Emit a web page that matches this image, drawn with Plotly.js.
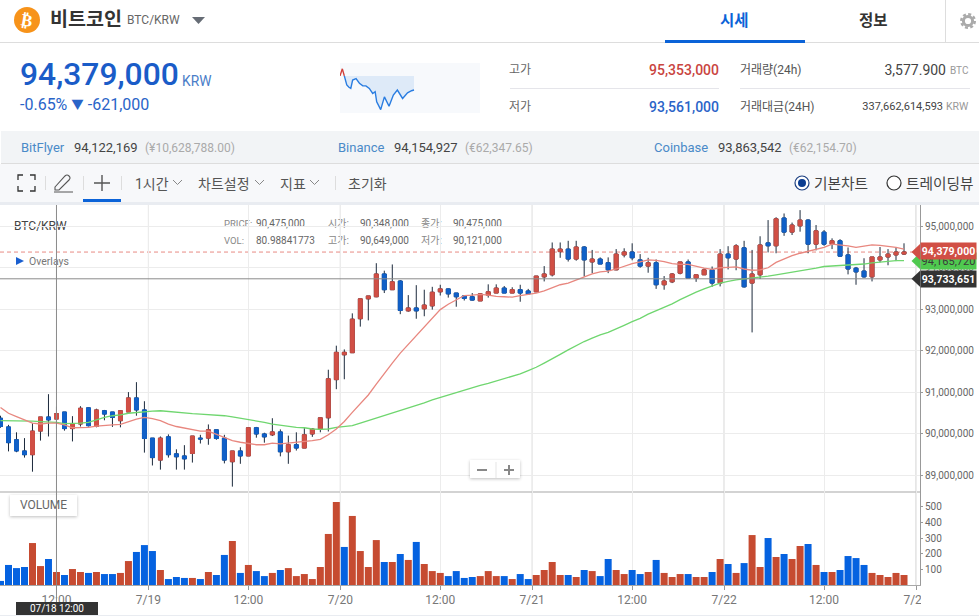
<!DOCTYPE html>
<html lang="ko"><head><meta charset="utf-8">
<script src="https://cdn.plot.ly/plotly-3.0.1.min.js"></script>
<style>
html,body{margin:0;padding:0;background:#fff;width:979px;height:616px;overflow:hidden;font-family:Roboto,"Noto Sans CJK KR",sans-serif;}
.t{position:absolute;white-space:nowrap;height:20px;line-height:20px;}
.r{text-align:right;}
.b{position:absolute;}
#under{position:absolute;left:0;top:0;width:979px;height:616px;z-index:0;}
#chart{position:absolute;left:0;top:205px;width:979px;height:411px;z-index:1;}
#over{position:absolute;left:0;top:0;width:979px;height:616px;z-index:2;pointer-events:none;}
#spark{position:absolute;left:340px;top:63px;width:140px;height:50px;}
svg{position:absolute;overflow:visible;}
</style></head><body>
<div id="under">
  <!-- header -->
  <div class="b" style="left:0;top:42px;width:979px;height:1px;background:#ddd"></div>
  <div class="b" style="left:945px;top:0;width:1px;height:42px;background:#ddd"></div>
  <svg style="left:14px;top:7px" width="26" height="26"><circle cx="13" cy="13" r="13" fill="#f7931a"/><text x="13" y="19" text-anchor="middle" fill="#fff" font-family="DejaVu Sans" font-weight="bold" font-size="17" transform="rotate(10 13 13)">₿</text></svg>
  <div class="t" style="left:50px;top:10px;font-size:19.6px;font-weight:700;color:#333">비트코인</div>
  <div class="t" style="left:127px;top:10px;font-size:12px;color:#666">BTC/KRW</div>
  <svg style="left:192px;top:17px" width="13" height="7"><path d="M0 0H13L6.5 7Z" fill="#666c75"/></svg>
  <div class="t" style="left:720px;top:11px;font-size:15.5px;font-weight:700;color:#0b63d8">시세</div>
  <div class="t" style="left:859px;top:11px;font-size:15.5px;font-weight:700;color:#333">정보</div>
  <div class="b" style="left:665px;top:40px;width:140px;height:3px;background:#0b63d8"></div>
  <svg style="left:960px;top:13px" width="16" height="16"><circle cx="8" cy="8" r="4.6" fill="none" stroke="#aaa" stroke-width="3"/><circle cx="8" cy="8" r="6.8" fill="none" stroke="#aaa" stroke-width="2.4" stroke-dasharray="3 2.34"/></svg>
  <!-- price block -->
  <div class="t" style="left:20px;top:64px;font-size:31.8px;font-weight:500;color:#1a5cc8">94,379,000</div>
  <div class="t" style="left:182px;top:71px;font-size:13.8px;color:#4a7dc8">KRW</div>
  <div class="t" style="left:20px;top:95px;font-size:16px;color:#2a64c8">-0.65% <span style="font-size:12.5px;position:relative;top:-1px">▼</span> -621,000</div>
  <div class="b" style="left:340px;top:63px;width:140px;height:50px;background:#f7f9fc"></div>
  <div class="t" style="left:509px;top:60px;font-size:12px;color:#666">고가</div>
  <div class="t r" style="right:260px;top:60px;font-size:14px;font-weight:500;color:#c9453f">95,353,000</div>
  <div class="b" style="left:510px;top:88px;width:209px;height:1px;background:#e5e5ea"></div>
  <div class="t" style="left:509px;top:97px;font-size:12px;color:#666">저가</div>
  <div class="t r" style="right:260px;top:97px;font-size:14px;font-weight:500;color:#2a64c8">93,561,000</div>
  <div class="t" style="left:740px;top:60px;font-size:12px;color:#555">거래량(24h)</div>
  <div class="t r" style="right:33px;top:60px;font-size:14px;color:#444">3,577.900</div>
  <div class="t" style="left:950px;top:61px;font-size:10px;color:#999">BTC</div>
  <div class="b" style="left:740px;top:88px;width:230px;height:1px;background:#e5e5ea"></div>
  <div class="t" style="left:740px;top:97px;font-size:12px;color:#555">거래대금(24H)</div>
  <div class="t r" style="right:36px;top:97px;font-size:11px;color:#444">337,662,614,593</div>
  <div class="t" style="left:946px;top:97px;font-size:10.5px;color:#999">KRW</div>
  <!-- exchanges -->
  <div class="b" style="left:1px;top:131px;width:978px;height:32px;background:#f2f4f6;border-bottom:1px solid #ddd"></div>
  <div class="t" style="left:21px;top:138px;font-size:13px;color:#4a8ac8">BitFlyer</div>
  <div class="t" style="left:74px;top:138px;font-size:13px;color:#444">94,122,169</div>
  <div class="t" style="left:145px;top:138px;font-size:12px;color:#aaa">(¥10,628,788.00)</div>
  <div class="t" style="left:338px;top:138px;font-size:13px;color:#4a8ac8">Binance</div>
  <div class="t" style="left:394px;top:138px;font-size:13px;color:#444">94,154,927</div>
  <div class="t" style="left:465px;top:138px;font-size:12px;color:#aaa">(€62,347.65)</div>
  <div class="t" style="left:654px;top:138px;font-size:13px;color:#4a8ac8">Coinbase</div>
  <div class="t" style="left:718px;top:138px;font-size:13px;color:#444">93,863,542</div>
  <div class="t" style="left:789px;top:138px;font-size:12px;color:#aaa">(€62,154.70)</div>
  <!-- toolbar -->
  <div class="b" style="left:0;top:164px;width:979px;height:38px;background:#f7f8fa"></div>
  <div class="b" style="left:0;top:202px;width:979px;height:3px;background:#e9ecf1"></div>
  <svg style="left:18px;top:175px" width="17" height="16"><path d="M0 5V0H5M12 0H17V5M17 11V16H12M5 16H0V11" fill="none" stroke="#333" stroke-width="1.3"/></svg>
  <div class="b" style="left:45px;top:176px;width:1px;height:14px;background:#ddd"></div>
  <svg style="left:54px;top:174px" width="19" height="18"><path d="M1 13L11 2Q13 0 15 2Q17 4 15 6L5 16L1 16Z" fill="none" stroke="#555" stroke-width="1.1"/><path d="M0 18H19" stroke="#555" stroke-width="1"/></svg>
  <div class="b" style="left:83px;top:176px;width:1px;height:14px;background:#ddd"></div>
  <svg style="left:94px;top:175px" width="16" height="16"><path d="M8 0V16M0 8H16" stroke="#555" stroke-width="1.4"/></svg>
  <div class="b" style="left:83px;top:199px;width:38px;height:3px;background:#0b63d8"></div>
  <div class="b" style="left:121px;top:176px;width:1px;height:14px;background:#ddd"></div>
  <div class="t" style="left:135px;top:174px;font-size:14px;color:#555">1시간</div>
  <svg style="left:173px;top:180px" width="9" height="5"><path d="M0 0L4.5 4.5L9 0" fill="none" stroke="#888"/></svg>
  <div class="t" style="left:198px;top:174px;font-size:14px;color:#555">차트설정</div>
  <svg style="left:255px;top:180px" width="9" height="5"><path d="M0 0L4.5 4.5L9 0" fill="none" stroke="#888"/></svg>
  <div class="t" style="left:280px;top:174px;font-size:14px;color:#555">지표</div>
  <svg style="left:310px;top:180px" width="9" height="5"><path d="M0 0L4.5 4.5L9 0" fill="none" stroke="#888"/></svg>
  <div class="b" style="left:335px;top:176px;width:1px;height:14px;background:#ddd"></div>
  <div class="t" style="left:348px;top:174px;font-size:14px;color:#555">초기화</div>
  <svg style="left:794px;top:175px" width="16" height="16"><circle cx="8" cy="8" r="7" fill="#fff" stroke="#1c3f80" stroke-width="1.2"/><circle cx="8" cy="8" r="4" fill="#0b3d91"/></svg>
  <div class="t" style="left:814px;top:174px;font-size:14.7px;color:#444">기본차트</div>
  <svg style="left:886px;top:175px" width="16" height="16"><circle cx="8" cy="8" r="7" fill="#fff" stroke="#333" stroke-width="1.2"/></svg>
  <div class="t" style="left:906px;top:174px;font-size:14.7px;color:#444">트레이딩뷰</div>
  <!-- chart captions -->
  <div class="t" style="left:14px;top:216px;font-size:12px;color:#444">BTC/KRW</div>
  <div class="t" style="left:224px;top:214px;font-size:9.5px;color:#888">PRICE:</div>
  <div class="t" style="left:256px;top:214px;font-size:10px;color:#666">90,475,000</div>
  <div class="t" style="left:224px;top:231px;font-size:9.5px;color:#888">VOL:</div>
  <div class="t" style="left:256px;top:231px;font-size:10px;color:#666">80.98841773</div>
  <div class="t" style="left:328px;top:214px;font-size:10px;color:#888">시가:</div>
  <div class="t" style="left:360px;top:214px;font-size:10px;color:#666">90,348,000</div>
  <div class="t" style="left:421px;top:214px;font-size:10px;color:#888">종가:</div>
  <div class="t" style="left:453px;top:214px;font-size:10px;color:#666">90,475,000</div>
  <div class="t" style="left:328px;top:231px;font-size:10px;color:#888">고가:</div>
  <div class="t" style="left:360px;top:231px;font-size:10px;color:#666">90,649,000</div>
  <div class="t" style="left:421px;top:231px;font-size:10px;color:#888">저가:</div>
  <div class="t" style="left:453px;top:231px;font-size:10px;color:#666">90,121,000</div>
  <svg style="left:16px;top:257px" width="8" height="8"><path d="M0 0L8 4L0 8Z" fill="#1a5fd0"/></svg>
  <div class="t" style="left:29px;top:252px;font-size:10.5px;color:#777">Overlays</div>
  <div class="b" style="left:10px;top:495px;width:67px;height:21px;background:#fff;box-shadow:0 1px 3px rgba(0,0,0,.25)"></div>
  <div class="t" style="left:20px;top:495px;font-size:12px;color:#666">VOLUME</div>
</div>
<div id="chart"></div>
<div id="over">
  <div id="spark"></div>
  <div class="b" style="left:470px;top:460px;width:50px;height:18px;background:#fff;box-shadow:0 1px 3px rgba(0,0,0,.25)"></div>
  <svg style="left:477px;top:465px" width="40" height="10"><path d="M0 5H10M27 5H37M32 0V10" stroke="#888" stroke-width="2"/><path d="M19 -3V13" stroke="#e5e5e5"/></svg>
  <div class="b" style="left:921px;top:587px;width:58px;height:27px;background:#fff"></div>
  <div class="b" style="left:0;top:615px;width:979px;height:1px;background:#e9ecf1"></div>
  <div class="t" style="left:16px;top:602px;width:82px;height:13px;line-height:13px;background:#333;color:#fff;font-size:10px;text-align:center">07/18 12:00</div>
</div>
<script>
// hourly candles, million KRW, first candle 2024-07-18 05:00
const open=[90.37,90.16,89.85,89.58,89.49,90.06,90.40,90.35,90.52,90.12,
90.23,90.62,90.17,90.55,90.52,90.31,90.52,90.86,90.57,89.89,
89.36,89.92,89.51,89.46,89.52,89.89,89.89,90.09,89.89,89.32,
89.58,89.46,90.14,89.99,89.97,90.04,89.56,89.73,89.65,89.99,
90.11,90.38,91.30,91.90,91.95,92.77,93.25,93.30,93.85,93.47,
93.68,92.96,93.03,93.01,93.08,93.42,93.49,93.39,93.32,93.30,
93.20,93.34,93.39,93.51,93.39,93.47,93.44,93.42,93.78,93.83,
94.39,94.45,94.21,94.50,94.14,94.21,94.12,93.95,94.31,94.38,
94.19,94.04,94.12,93.59,93.66,93.87,94.14,93.75,93.83,93.95,
93.63,94.33,94.21,94.48,93.63,93.83,94.60,94.53,95.20,94.86,
95.01,95.15,94.57,94.86,94.57,94.65,94.31,93.99,93.92,93.78,
94.19,94.26,94.31,94.33];
const high=[90.43,90.21,90.03,89.89,90.25,90.40,90.95,90.65,90.52,90.42,
90.66,90.63,90.60,90.57,90.52,90.56,91.00,91.24,90.78,89.89,
89.93,89.98,89.62,89.72,89.94,89.97,90.22,90.09,89.97,89.58,
89.67,90.15,90.16,90.02,90.37,90.10,89.95,90.03,90.13,90.13,
90.38,91.54,92.12,92.03,92.90,93.25,93.32,94.11,93.93,94.08,
93.70,93.34,93.58,93.47,93.54,93.59,93.50,93.39,93.34,93.39,
93.39,93.60,93.60,93.56,93.53,93.59,93.49,93.80,94.04,94.61,
94.61,94.65,94.65,94.52,94.43,94.25,94.25,94.45,94.47,94.59,
94.33,94.24,94.20,93.80,93.87,94.14,94.20,93.83,93.99,94.03,
94.45,94.52,94.57,94.65,94.43,94.76,95.15,95.22,95.31,95.09,
95.39,95.17,95.03,94.91,94.71,94.69,94.49,94.02,94.23,94.26,
94.50,94.45,94.49,94.59];
const low=[90.14,89.57,89.55,89.42,89.08,89.83,89.93,90.12,90.07,89.81,
90.17,90.17,90.15,90.32,90.16,90.15,90.52,90.43,89.54,89.23,
89.13,89.42,89.13,89.13,89.30,89.76,89.73,89.85,89.28,88.72,
89.27,89.46,89.90,89.78,89.94,89.45,89.27,89.59,89.65,89.92,
90.03,90.05,91.07,91.31,91.95,92.58,92.73,93.29,93.39,93.47,
92.88,92.94,92.77,92.83,92.99,93.33,93.28,93.06,93.21,93.21,
93.20,93.28,93.39,93.39,93.39,93.18,93.36,93.41,93.67,93.79,
94.24,94.15,94.17,93.79,93.87,94.09,93.87,93.94,94.25,94.18,
94.00,93.88,93.49,93.47,93.63,93.84,93.75,93.66,93.83,93.54,
93.55,93.96,93.94,93.52,92.44,93.73,94.37,94.35,94.77,94.79,
94.87,94.35,94.42,94.53,94.45,94.27,93.84,93.59,93.76,93.67,
94.13,94.06,94.16,94.31];
const close=[90.17,89.78,89.58,89.49,90.06,90.40,90.33,90.48,90.12,90.23,
90.61,90.19,90.57,90.47,90.39,90.55,90.86,90.57,89.88,89.42,
89.89,89.49,89.44,89.39,89.94,89.87,90.09,89.88,89.36,89.58,
89.46,90.14,89.99,89.92,90.04,89.56,89.73,89.65,89.97,90.11,
90.38,91.32,91.96,91.96,92.76,93.25,93.32,93.85,93.47,93.66,
92.97,93.03,92.96,93.10,93.41,93.49,93.37,93.30,93.26,93.22,
93.37,93.42,93.51,93.39,93.47,93.39,93.37,93.80,93.85,94.45,
94.45,94.21,94.50,94.19,94.21,94.09,93.95,94.33,94.38,94.24,
94.04,94.12,93.59,93.68,93.85,94.14,93.75,93.83,93.95,93.63,
94.33,94.24,94.53,93.54,93.85,94.55,94.53,95.18,94.86,95.03,
95.15,94.57,94.89,94.57,94.65,94.28,93.97,93.90,93.78,94.26,
94.26,94.33,94.38,94.38];
const maFast=[90.63,90.49,90.41,90.33,90.25,90.23,90.25,90.25,90.21,90.14,
90.14,90.15,90.18,90.20,90.21,90.22,90.29,90.35,90.39,90.36,
90.31,90.23,90.17,90.13,90.10,90.06,90.06,89.98,89.90,89.83,
89.79,89.76,89.73,89.73,89.77,89.75,89.77,89.78,89.81,89.83,
89.86,89.97,90.11,90.29,90.51,90.73,90.93,91.19,91.45,91.70,
91.94,92.15,92.35,92.56,92.78,92.99,93.12,93.22,93.33,93.34,
93.36,93.34,93.31,93.30,93.29,93.33,93.36,93.39,93.44,93.52,
93.59,93.63,93.70,93.78,93.85,93.90,93.92,93.97,94.04,94.10,
94.14,94.19,94.18,94.15,94.10,94.08,94.08,94.03,93.99,93.96,
94.00,94.01,94.02,93.97,93.94,93.95,94.00,94.13,94.21,94.29,
94.35,94.40,94.45,94.49,94.57,94.55,94.53,94.49,94.52,94.55,
94.54,94.52,94.49,94.45];
const maSlow=[90.31,90.31,90.31,90.31,90.30,90.29,90.28,90.27,90.24,90.24,
90.25,90.27,90.33,90.39,90.43,90.45,90.49,90.51,90.53,90.54,
90.55,90.53,90.51,90.50,90.48,90.47,90.46,90.45,90.43,90.40,
90.37,90.34,90.31,90.27,90.23,90.20,90.18,90.15,90.14,90.11,
90.10,90.11,90.15,90.17,90.19,90.25,90.31,90.37,90.43,90.49,
90.55,90.61,90.67,90.74,90.81,90.87,90.93,90.99,91.04,91.10,
91.16,91.21,91.27,91.33,91.38,91.44,91.52,91.60,91.70,91.80,
91.91,92.02,92.13,92.22,92.30,92.38,92.44,92.52,92.61,92.70,
92.78,92.88,92.96,93.04,93.13,93.23,93.33,93.41,93.49,93.56,
93.63,93.67,93.71,93.73,93.75,93.78,93.80,93.83,93.86,93.89,
93.92,93.96,93.99,94.03,94.04,94.06,94.07,94.08,94.09,94.12,
94.14,94.16,94.17,94.17];
const volume=[26,128,108,115,268,121,166,83,64,102,
83,77,83,70,70,77,153,211,255,217,
96,38,51,45,45,38,83,64,192,281,
77,128,89,57,77,96,108,57,70,38,
115,326,530,243,441,217,115,287,147,147,
198,160,275,134,89,77,57,89,45,51,
57,89,57,57,38,70,38,64,96,147,
64,64,51,96,89,57,166,96,70,96,
70,83,160,77,51,70,70,51,51,83,
166,134,77,140,319,115,300,179,198,166,
249,262,128,83,83,96,185,172,128,77,
64,51,77,64];
const volumeSide=["d","d","d","d","u","u","d","u","d","u",
  "u","d","u","d","d","u","u","d","d","d",
  "u","d","d","d","u","d","u","d","d","u",
  "d","u","d","d","u","d","u","u","u","u",
  "u","u","u","d","u","u","u","u","d","u",
  "d","u","d","u","u","u","d","d","d","d",
  "u","u","u","d","u","d","d","u","u","u",
  "u","d","u","d","u","d","d","u","u","d",
  "d","u","d","u","u","u","d","u","u","d",
  "u","d","u","d","u","u","d","u","d","u",
  "u","d","u","d","u","d","d","d","d","u",
  "u","u","u","u"];
const dayTicks=["2024-07-18 23:30","2024-07-19 23:30","2024-07-20 23:30","2024-07-21 23:30","2024-07-22 23:30"];
const dayLabels=["7/19","7/20","7/21","7/22","7/23"];
const noonTicks=["2024-07-18 12:00","2024-07-19 12:00","2024-07-20 12:00","2024-07-21 12:00","2024-07-22 12:00"];
const noonLabels=["12:00","12:00","12:00","12:00","12:00"];
const priceTicks=[89,90,91,92,93,94,95];
const priceLabels=["89,000,000","90,000,000","91,000,000","92,000,000","93,000,000","94,000,000","95,000,000"];
const volumeTicks=[100,200,300,400,500];
const currentPrice=94379000, slowValue=94165720, crossPrice=93733651, crossTime="2024-07-18 12:00";
const sparkHours=[0,.76,1.4,2.2,2.9,3.5,4.1,5.2,6.3,7.4,8.4,9.5,10.6,11.4,11.9,13.2,14.4,15.9,17.3,18.6,20.3,21.9,23.2,24];
const sparkPrice=[95.04,95.35,95.04,94.64,94.54,94.49,94.86,94.92,94.72,94.61,94.60,94.49,94.27,94.35,93.90,93.56,94.12,93.71,94.20,94.42,94.05,94.30,94.39,94.42];

const M=v=>v*1e6;
const times=open.map((_,i)=>new Date(Date.UTC(2024,6,18,5+i)).toISOString().slice(0,16).replace('T',' '));
const RED='#d14f45',BLUE='#1060c8',WICK='#1c2a3c';
const traces=[
 {type:'candlestick',x:times,open:open.map(M),high:high.map(M),low:low.map(M),close:close.map(M),
  width:60000,xaxis:'x',yaxis:'y',hoverinfo:'skip',
  increasing:{line:{color:WICK,width:1},fillcolor:WICK},decreasing:{line:{color:WICK,width:1},fillcolor:WICK}},
 {type:'candlestick',x:times,open:open.map(M),close:close.map(M),
  high:open.map((o,i)=>M(Math.max(o,close[i]))),low:open.map((o,i)=>M(Math.min(o,close[i]))),
  width:2160000,xaxis:'x',yaxis:'y',hoverinfo:'skip',
  increasing:{line:{color:RED,width:1},fillcolor:RED},decreasing:{line:{color:BLUE,width:1},fillcolor:BLUE}},
 {type:'scatter',mode:'lines',x:times,y:maSlow.map(M),line:{color:'#6fd66f',width:1.3},xaxis:'x',yaxis:'y',hoverinfo:'skip'},
 {type:'scatter',mode:'lines',x:times,y:maFast.map(M),line:{color:'#e8877f',width:1.3},xaxis:'x',yaxis:'y',hoverinfo:'skip'},
 {type:'bar',x:times,y:volume,width:3150000,xaxis:'x',yaxis:'y2',hoverinfo:'skip',
  marker:{color:volumeSide.map(s=>s==='u'?'#c64b31':'#0562e0'),line:{width:0}}}
];
const tagPointer=(value,color)=>({type:'shape',xref:'paper',yref:'y',xsizemode:'pixel',ysizemode:'pixel',xanchor:1,yanchor:value,
  path:'M -8.5 0 L 0 8 L 0 -8 Z',fillcolor:color,line:{width:0},layer:'above'});
const tag=(value,text,bg,fg,yshift,bold)=>({xref:'paper',yref:'y',x:1,y:value,xanchor:'left',yanchor:'middle',yshift:yshift,
  text:bold?'<b>'+text+'</b>':text,showarrow:false,width:55,height:16,bgcolor:bg,borderpad:0,align:'center',
  font:{family:'Roboto',size:bold?10.5:11,color:fg}});
const fmt=v=>v.toLocaleString('en-US');
const layout={
 width:979,height:411,margin:{l:0,r:58.5,t:0,b:31},
 paper_bgcolor:'rgba(0,0,0,0)',plot_bgcolor:'rgba(0,0,0,0)',showlegend:false,hovermode:false,
 barmode:'overlay',
 xaxis:{type:'date',anchor:'y2',range:['2024-07-18 04:56:15','2024-07-23 00:00:00'],
  tickmode:'array',tickvals:noonTicks.concat(dayTicks),ticktext:noonLabels.concat(dayLabels),
  ticks:'outside',ticklen:4,tickcolor:'#999',tickfont:{family:'Roboto',size:12,color:'#777'},
  showgrid:true,gridcolor:'#ececec',gridwidth:1,zeroline:false,showline:true,linecolor:'#a8a8a8',linewidth:1,
  rangeslider:{visible:false},fixedrange:true},
 yaxis:{domain:[93/380,1],side:'right',anchor:'x',range:[M(88.59),M(95.514)],
  tickmode:'array',tickvals:priceTicks.map(M),ticktext:priceLabels,
  ticks:'outside',ticklen:2,tickcolor:'#999',tickfont:{family:'Roboto',size:10,color:'#666'},
  showgrid:true,gridcolor:'#ececec',zeroline:false,showline:true,linecolor:'#999',linewidth:1,fixedrange:true},
 yaxis2:{domain:[0,93/380],side:'right',anchor:'x',range:[0,594],
  tickmode:'array',tickvals:volumeTicks,ticktext:volumeTicks.map(String),
  ticks:'outside',ticklen:2,tickcolor:'#999',tickfont:{family:'Roboto',size:10,color:'#666'},
  showgrid:false,zeroline:false,showline:true,linecolor:'#999',linewidth:1,fixedrange:true},
 shapes:[
  ...dayTicks.map(d=>({type:'line',xref:'x',yref:'paper',x0:d,x1:d,y0:0,y1:1,line:{color:'#cccccc',width:1},layer:'below'})),
  {type:'line',xref:'paper',yref:'paper',x0:0,x1:1,y0:93/380,y1:93/380,line:{color:'#c4c4c4',width:1.5},layer:'below'},
  {type:'line',xref:'paper',yref:'y',x0:0,x1:1,y0:currentPrice,y1:currentPrice,line:{color:'#e88a84',width:1,dash:'4px,3px'},layer:'below'},
  {type:'line',xref:'paper',yref:'y',x0:0,x1:1,y0:crossPrice,y1:crossPrice,line:{color:'#8a8a8a',width:1},layer:'above'},
  {type:'line',xref:'x',yref:'paper',x0:crossTime,x1:crossTime,y0:-17/380,y1:1,line:{color:'#8a8a8a',width:1},layer:'above'},
  tagPointer(crossPrice,'#333333'),tagPointer(slowValue,'#4fc94f'),tagPointer(currentPrice,'#d14f45')
 ],
 annotations:[
  tag(crossPrice,fmt(crossPrice),'#333333','#ffffff',0,true),
  tag(slowValue,fmt(slowValue),'#4fc94f','#3a3a3a',0,false),
  tag(currentPrice,fmt(currentPrice),'#d14f45','#ffffff',1.5,true)
 ]
};
Plotly.newPlot('chart',traces,layout,{displayModeBar:false,responsive:false,staticPlot:true});

// 24h sparkline
const openLevel=sparkPrice[2];
Plotly.newPlot('spark',[
 {type:'scatter',mode:'lines',x:sparkHours.slice(2),y:sparkHours.slice(2).map(()=>openLevel),line:{width:0},hoverinfo:'skip'},
 {type:'scatter',mode:'lines',x:sparkHours.slice(2),y:sparkPrice.slice(2),fill:'tonexty',fillcolor:'#deeaf8',line:{color:'#2a7de1',width:1.4},hoverinfo:'skip'},
 {type:'scatter',mode:'lines',x:sparkHours.slice(0,3),y:sparkPrice.slice(0,3),line:{color:'#d1403a',width:1.4},hoverinfo:'skip'}
],{width:140,height:50,margin:{l:0,r:0,t:0,b:0},paper_bgcolor:'rgba(0,0,0,0)',plot_bgcolor:'rgba(0,0,0,0)',showlegend:false,
 xaxis:{visible:false,range:[0,45.4]},yaxis:{visible:false,range:[93.413,95.605]}},{displayModeBar:false,staticPlot:true});
</script>
</body></html>
